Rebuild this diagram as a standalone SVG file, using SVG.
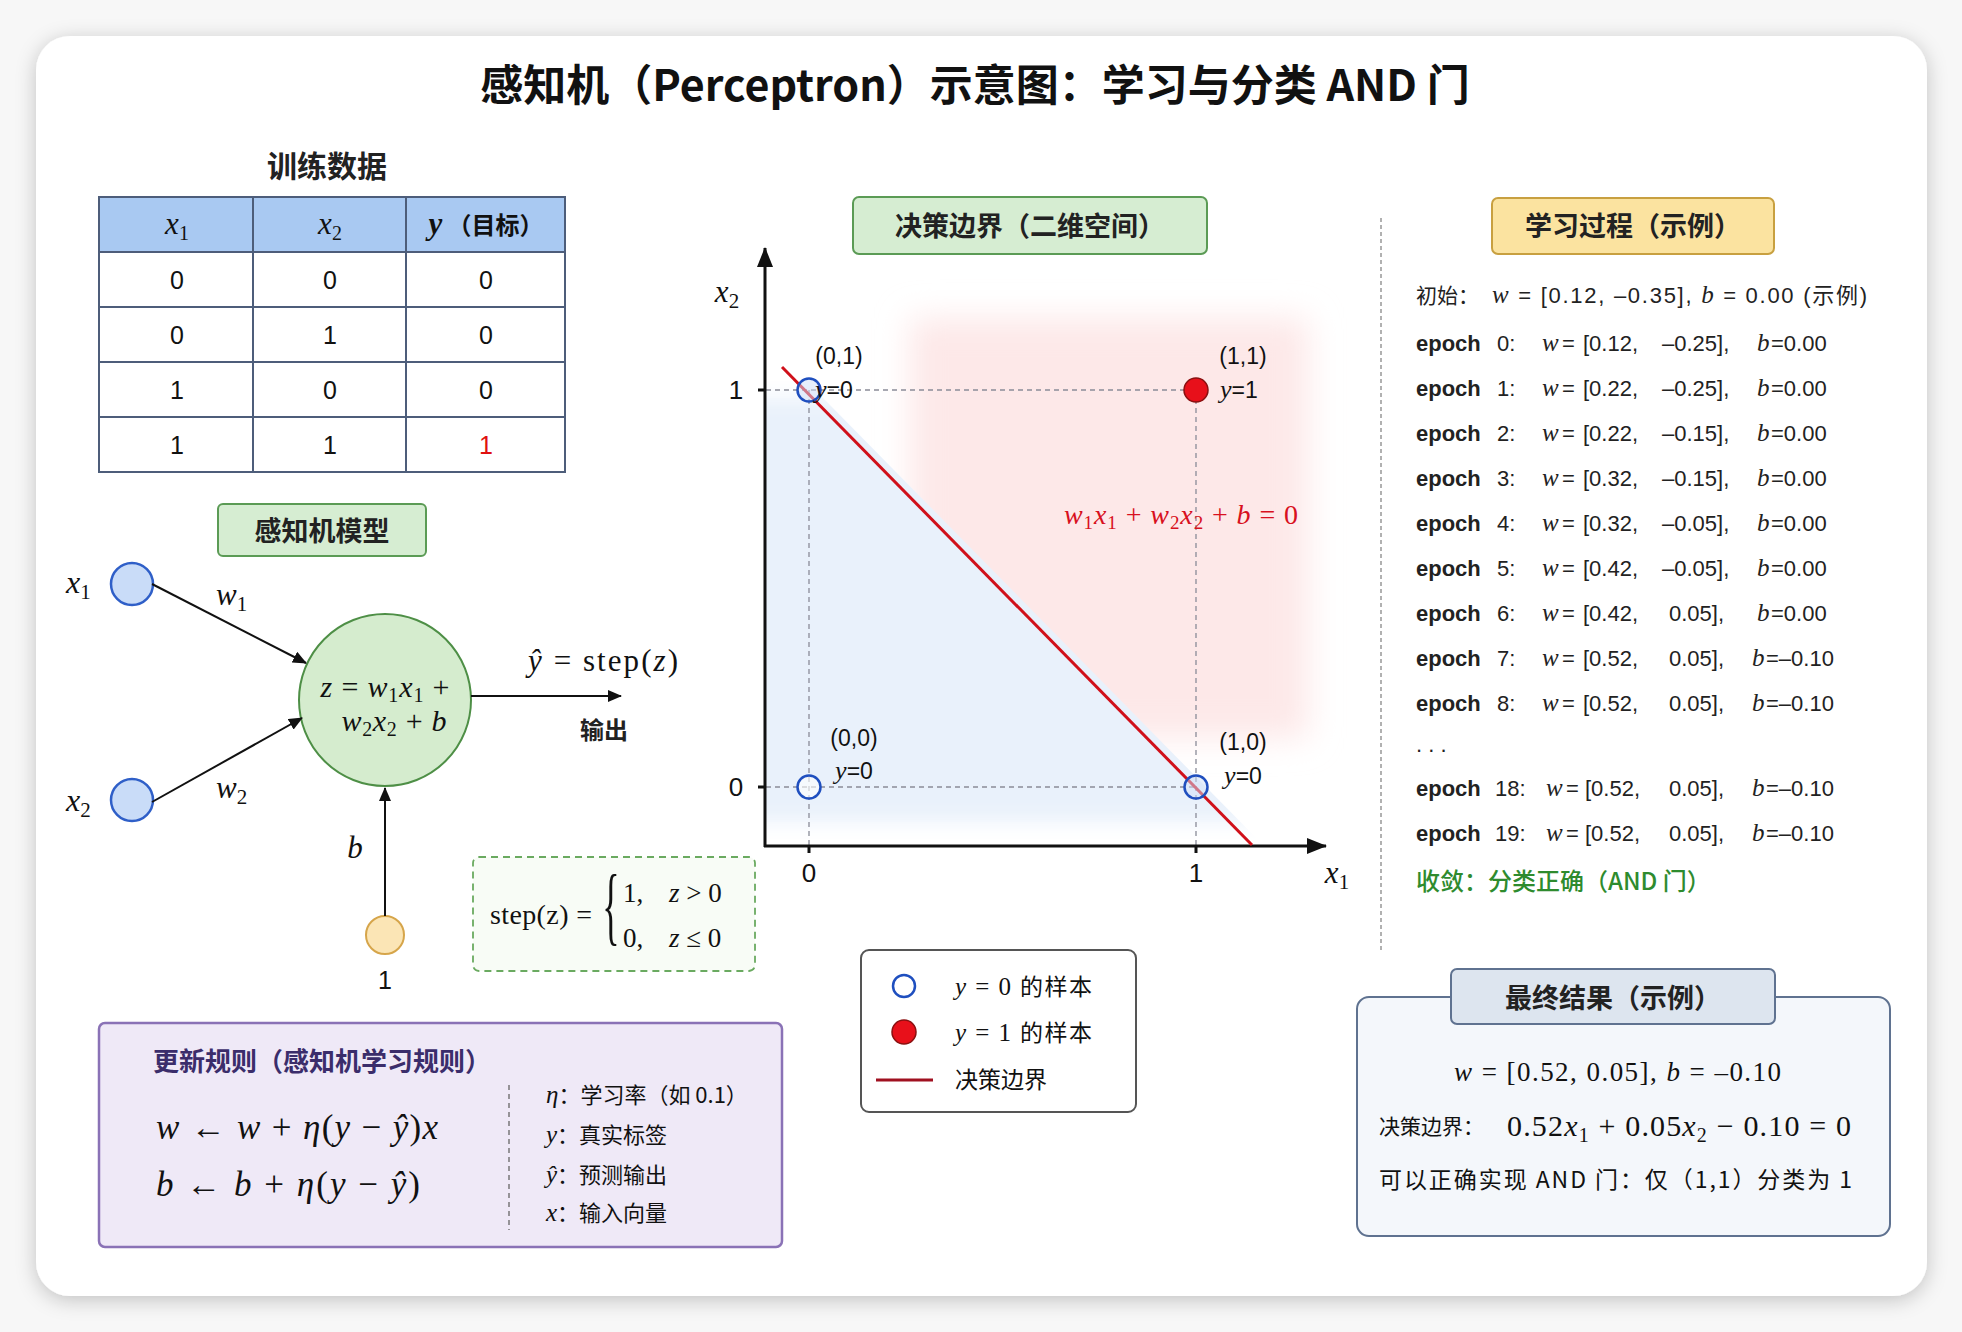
<svg xmlns="http://www.w3.org/2000/svg" width="1962" height="1332" viewBox="0 0 1962 1332">
<defs>
<style>
.cjk{font-family:"Noto Sans CJK SC","Noto Sans",sans-serif;}
.b{font-weight:700;}
.sans{font-family:"Liberation Sans","Noto Sans CJK SC",sans-serif;}
.mi{font-family:"Liberation Serif","DejaVu Serif",serif;font-style:italic;}
.mr{font-family:"Liberation Serif","DejaVu Serif",serif;font-style:normal;}
.dash{stroke:#8a8c98;stroke-width:1.3;stroke-dasharray:5 4;fill:none;}
.grid{stroke:#4d5d7a;stroke-width:2;}
.ep{font-size:22px;fill:#222;}
.ep .mi{font-size:25px;}
</style>
<filter id="shadow" x="-5%" y="-5%" width="110%" height="110%">
<feDropShadow dx="0" dy="4" stdDeviation="10" flood-color="#000" flood-opacity="0.22"/>
</filter>
<filter id="blurP" x="-30%" y="-30%" width="160%" height="160%"><feGaussianBlur stdDeviation="16"/></filter>
<filter id="blurB" x="-20%" y="-20%" width="140%" height="140%"><feGaussianBlur stdDeviation="10"/></filter>
<clipPath id="belowLine"><polygon points="766,340 1330,913 766,913"/></clipPath>
<clipPath id="aboveLine"><polygon points="700,284 700,200 1400,200 1400,913 1320,913"/></clipPath>
<marker id="ah" viewBox="0 0 14 12" refX="13" refY="6" markerWidth="14" markerHeight="12" orient="auto" markerUnits="userSpaceOnUse"><path d="M0,0 L14,6 L0,12 z" fill="#111"/></marker>
<marker id="axh" viewBox="0 0 20 16" refX="19" refY="8" markerWidth="20" markerHeight="16" orient="auto" markerUnits="userSpaceOnUse"><path d="M0,0 L20,8 L0,16 z" fill="#111"/></marker>
</defs>

<rect x="0" y="0" width="1962" height="1332" fill="#f7f7f7"/>
<rect id="card" x="36" y="36" width="1891" height="1260" rx="34" fill="#ffffff" filter="url(#shadow)"/>

<text id="title" x="975" y="101" class="cjk b" font-size="43" text-anchor="middle" fill="#111">感知机（Perceptron）示意图：学习与分类 AND 门</text>

<g id="training-data">
<text x="327" y="177" class="cjk b" font-size="30" text-anchor="middle" fill="#222">训练数据</text>
<rect x="99" y="197" width="466" height="55" fill="#a9c9f2"/>
<rect x="99" y="197" width="466" height="275" fill="none" class="grid"/>
<line x1="99" y1="252" x2="565" y2="252" class="grid"/>
<line x1="99" y1="307" x2="565" y2="307" class="grid"/>
<line x1="99" y1="362" x2="565" y2="362" class="grid"/>
<line x1="99" y1="417" x2="565" y2="417" class="grid"/>
<line x1="253" y1="197" x2="253" y2="472" class="grid"/>
<line x1="406" y1="197" x2="406" y2="472" class="grid"/>
<text x="177" y="234" class="mi" font-size="31" text-anchor="middle" fill="#111">x<tspan class="mr" font-size="20" dy="6">1</tspan></text>
<text x="330" y="234" class="mi" font-size="31" text-anchor="middle" fill="#111">x<tspan class="mr" font-size="20" dy="6">2</tspan></text>
<text x="486" y="234" font-size="31" text-anchor="middle" fill="#111"><tspan class="mi b">y</tspan><tspan class="cjk b" font-size="24"> （目标）</tspan></text>
<g class="sans" font-size="25" text-anchor="middle" fill="#111">
<text x="177" y="289">0</text><text x="330" y="289">0</text><text x="486" y="289">0</text>
<text x="177" y="344">0</text><text x="330" y="344">1</text><text x="486" y="344">0</text>
<text x="177" y="399">1</text><text x="330" y="399">0</text><text x="486" y="399">0</text>
<text x="177" y="454">1</text><text x="330" y="454">1</text><text x="486" y="454" fill="#e01010">1</text>
</g>
</g>

<g id="perceptron-model">
<rect x="218" y="504" width="208" height="52" rx="5" fill="#d6edd2" stroke="#5b9b55" stroke-width="2"/>
<text x="322" y="541" class="cjk b" font-size="27" text-anchor="middle" fill="#222">感知机模型</text>
</g>

<g id="input-x1">
<circle cx="132" cy="584" r="21" fill="#c9dcf8" stroke="#2f5fc8" stroke-width="2.5"/>
<text x="66" y="593" class="mi" font-size="32" fill="#111">x<tspan class="mr" font-size="21" dy="6">1</tspan></text>
</g>
<g id="input-x2">
<circle cx="132" cy="800" r="21" fill="#c9dcf8" stroke="#2f5fc8" stroke-width="2.5"/>
<text x="66" y="811" class="mi" font-size="32" fill="#111">x<tspan class="mr" font-size="21" dy="6">2</tspan></text>
</g>
<g id="neuron">
<circle cx="385" cy="700" r="86" fill="#d5ecce" stroke="#4e8f46" stroke-width="2"/>
<text x="385" y="697" class="mi" font-size="30" text-anchor="middle" fill="#111" textLength="129" lengthAdjust="spacing">z <tspan class="mr">=</tspan> w<tspan class="mr" font-size="20" dy="5">1</tspan><tspan dy="-5">x</tspan><tspan class="mr" font-size="20" dy="5">1</tspan><tspan class="mr" dy="-5"> +</tspan></text>
<text x="394" y="731" class="mi" font-size="30" text-anchor="middle" fill="#111" textLength="105" lengthAdjust="spacing">w<tspan class="mr" font-size="20" dy="5">2</tspan><tspan dy="-5">x</tspan><tspan class="mr" font-size="20" dy="5">2</tspan><tspan class="mr" dy="-5"> + </tspan>b</text>
</g>
<g id="bias">
<circle cx="385" cy="935" r="19" fill="#fbe5b5" stroke="#d6a54a" stroke-width="2"/>
<text x="385" y="989" class="sans" font-size="25" text-anchor="middle" fill="#111">1</text>
</g>
<g id="output">
<text x="528" y="671" font-size="31" fill="#111" textLength="150" lengthAdjust="spacing"><tspan class="mi">ŷ</tspan><tspan class="mr"> = step(</tspan><tspan class="mi">z</tspan><tspan class="mr">)</tspan></text>
<text x="604" y="739" class="cjk b" font-size="24" text-anchor="middle" fill="#222">输出</text>
</g>
<g id="step-function">
<rect x="473" y="857" width="282" height="114" rx="6" fill="#f8fcf6" stroke="#6aaa60" stroke-width="1.8" stroke-dasharray="7 5"/>
<text x="490" y="924" class="mr" font-size="28" fill="#111" textLength="102" lengthAdjust="spacing">step(z) =</text>
<text transform="translate(611,934) scale(0.42,1)" class="mr" font-size="86" text-anchor="middle" fill="#111">{</text>
<text x="623" y="902" class="mr" font-size="27" fill="#111">1,</text>
<text x="669" y="902" font-size="27" fill="#111"><tspan class="mi">z</tspan><tspan class="mr"> &gt; 0</tspan></text>
<text x="623" y="947" class="mr" font-size="27" fill="#111">0,</text>
<text x="669" y="947" font-size="27" fill="#111"><tspan class="mi">z</tspan><tspan class="mr"> ≤ 0</tspan></text>
</g>

<g id="connectors" stroke="#111" stroke-width="2" fill="none">
<line x1="152" y1="584" x2="306" y2="663" marker-end="url(#ah)"/>
<line x1="152" y1="802" x2="302" y2="718" marker-end="url(#ah)"/>
<line x1="471" y1="696" x2="621" y2="696" marker-end="url(#ah)"/>
<line x1="385" y1="916" x2="385" y2="788" marker-end="url(#ah)"/>
</g>
<g id="connector-labels" class="mi" font-size="31" fill="#111">
<text x="216" y="605">w<tspan class="mr" font-size="21" dy="6">1</tspan></text>
<text x="216" y="798">w<tspan class="mr" font-size="21" dy="6">2</tspan></text>
<text x="355" y="858" text-anchor="middle">b</text>
</g>

<g id="decision-boundary">
<rect x="853" y="197" width="354" height="57" rx="6" fill="#d6edd2" stroke="#5b9b55" stroke-width="2"/>
<text x="1030" y="236" class="cjk b" font-size="27" text-anchor="middle" fill="#222">决策边界（二维空间）</text>
<g clip-path="url(#aboveLine)"><rect x="910" y="318" width="398" height="420" fill="#fde8e8" filter="url(#blurP)"/></g>
<g clip-path="url(#belowLine)"><rect x="740" y="398" width="520" height="424" fill="#e9f1fb" filter="url(#blurB)"/></g>
<line x1="766" y1="390" x2="1196" y2="390" class="dash"/>
<line x1="766" y1="787" x2="1196" y2="787" class="dash"/>
<line x1="809" y1="390" x2="809" y2="846" class="dash"/>
<line x1="1196" y1="390" x2="1196" y2="846" class="dash"/>
<g stroke="#111" stroke-width="3" fill="none">
<line x1="765" y1="847" x2="765" y2="248" marker-end="url(#axh)"/>
<line x1="764" y1="846" x2="1326" y2="846" marker-end="url(#axh)"/>
<line x1="758" y1="390" x2="765" y2="390"/>
<line x1="758" y1="787" x2="765" y2="787"/>
<line x1="809" y1="846" x2="809" y2="853"/>
<line x1="1196" y1="846" x2="1196" y2="853"/>
</g>
<line x1="782" y1="367" x2="1252" y2="845" stroke="#d0101a" stroke-width="3"/>
<text x="727" y="302" class="mi" font-size="31" text-anchor="middle" fill="#111">x<tspan class="mr" font-size="21" dy="6">2</tspan></text>
<text x="1337" y="883" class="mi" font-size="31" text-anchor="middle" fill="#111">x<tspan class="mr" font-size="21" dy="6">1</tspan></text>
<g class="sans" font-size="26" text-anchor="middle" fill="#111">
<text x="736" y="399">1</text><text x="736" y="796">0</text>
<text x="809" y="882">0</text><text x="1196" y="882">1</text>
</g>
<circle cx="809" cy="390" r="11.5" fill="#cfe0f8" fill-opacity="0.5" stroke="#1f4fbf" stroke-width="2.5"/>
<circle cx="1196" cy="390" r="12" fill="#e8101a" stroke="#8a1010" stroke-width="1.5"/>
<circle cx="809" cy="787" r="11.5" fill="#ffffff" fill-opacity="0.6" stroke="#1f4fbf" stroke-width="2.5"/>
<circle cx="1196" cy="787" r="11.5" fill="#cfe0f8" fill-opacity="0.5" stroke="#1f4fbf" stroke-width="2.5"/>
<g font-size="23" fill="#111">
<text x="839" y="364" class="sans" text-anchor="middle">(0,1)</text>
<text x="815" y="398"><tspan class="mi" font-size="26">y</tspan><tspan class="sans">=0</tspan></text>
<text x="1243" y="364" class="sans" text-anchor="middle">(1,1)</text>
<text x="1220" y="398"><tspan class="mi" font-size="26">y</tspan><tspan class="sans">=1</tspan></text>
<text x="854" y="746" class="sans" text-anchor="middle">(0,0)</text>
<text x="854" y="779" text-anchor="middle"><tspan class="mi" font-size="26">y</tspan><tspan class="sans">=0</tspan></text>
<text x="1243" y="750" class="sans" text-anchor="middle">(1,0)</text>
<text x="1243" y="784" text-anchor="middle"><tspan class="mi" font-size="26">y</tspan><tspan class="sans">=0</tspan></text>
</g>
<text x="1064" y="524" class="mi" font-size="28" fill="#d81020" textLength="234" lengthAdjust="spacing">w<tspan class="mr" font-size="19" dy="5">1</tspan><tspan dy="-5">x</tspan><tspan class="mr" font-size="19" dy="5">1</tspan><tspan class="mr" dy="-5"> + </tspan>w<tspan class="mr" font-size="19" dy="5">2</tspan><tspan dy="-5">x</tspan><tspan class="mr" font-size="19" dy="5">2</tspan><tspan class="mr" dy="-5"> + </tspan>b<tspan class="mr"> = 0</tspan></text>
</g>

<g id="legend">
<rect x="861" y="950" width="275" height="162" rx="8" fill="#ffffff" stroke="#555" stroke-width="2"/>
<circle cx="904" cy="986" r="11" fill="#fff" stroke="#1f4fbf" stroke-width="2.5"/>
<circle cx="904" cy="1032" r="12" fill="#e8101a" stroke="#8a1010" stroke-width="1.5"/>
<line x1="876" y1="1080" x2="933" y2="1080" stroke="#a01020" stroke-width="3"/>
<text x="955" y="995" font-size="25" fill="#111" textLength="137" lengthAdjust="spacing"><tspan class="mi">y</tspan><tspan class="mr"> = 0 </tspan><tspan class="cjk" font-size="23">的样本</tspan></text>
<text x="955" y="1041" font-size="25" fill="#111" textLength="137" lengthAdjust="spacing"><tspan class="mi">y</tspan><tspan class="mr"> = 1 </tspan><tspan class="cjk" font-size="23">的样本</tspan></text>
<text x="955" y="1088" class="cjk" font-size="23" fill="#111">决策边界</text>
</g>

<g id="learning-process">
<line x1="1381" y1="218" x2="1381" y2="951" stroke="#888" stroke-width="1.3" stroke-dasharray="4 3"/>
<rect x="1492" y="198" width="282" height="56" rx="6" fill="#fbe3a0" stroke="#c8a040" stroke-width="2"/>
<text x="1633" y="236" class="cjk b" font-size="27" text-anchor="middle" fill="#222">学习过程（示例）</text>
<g class="ep">
<text x="1416" y="303" class="cjk" font-size="21">初始：</text>
<text x="1492" y="303" class="sans" font-size="22" textLength="375" lengthAdjust="spacing"><tspan class="mi">w</tspan> = [0.12, –0.35], <tspan class="mi">b</tspan> = 0.00 (<tspan class="cjk">示例</tspan>)</text>
</g>
<g class="ep sans">
<text y="351"><tspan x="1416" class="b">epoch</tspan><tspan x="1497">0:</tspan><tspan x="1542" class="mi">w</tspan><tspan x="1562">=</tspan><tspan x="1583">[0.12,</tspan><tspan x="1662">–0.25],</tspan><tspan x="1757" class="mi">b</tspan><tspan x="1771">=0.00</tspan></text>
<text y="396"><tspan x="1416" class="b">epoch</tspan><tspan x="1497">1:</tspan><tspan x="1542" class="mi">w</tspan><tspan x="1562">=</tspan><tspan x="1583">[0.22,</tspan><tspan x="1662">–0.25],</tspan><tspan x="1757" class="mi">b</tspan><tspan x="1771">=0.00</tspan></text>
<text y="441"><tspan x="1416" class="b">epoch</tspan><tspan x="1497">2:</tspan><tspan x="1542" class="mi">w</tspan><tspan x="1562">=</tspan><tspan x="1583">[0.22,</tspan><tspan x="1662">–0.15],</tspan><tspan x="1757" class="mi">b</tspan><tspan x="1771">=0.00</tspan></text>
<text y="486"><tspan x="1416" class="b">epoch</tspan><tspan x="1497">3:</tspan><tspan x="1542" class="mi">w</tspan><tspan x="1562">=</tspan><tspan x="1583">[0.32,</tspan><tspan x="1662">–0.15],</tspan><tspan x="1757" class="mi">b</tspan><tspan x="1771">=0.00</tspan></text>
<text y="531"><tspan x="1416" class="b">epoch</tspan><tspan x="1497">4:</tspan><tspan x="1542" class="mi">w</tspan><tspan x="1562">=</tspan><tspan x="1583">[0.32,</tspan><tspan x="1662">–0.05],</tspan><tspan x="1757" class="mi">b</tspan><tspan x="1771">=0.00</tspan></text>
<text y="576"><tspan x="1416" class="b">epoch</tspan><tspan x="1497">5:</tspan><tspan x="1542" class="mi">w</tspan><tspan x="1562">=</tspan><tspan x="1583">[0.42,</tspan><tspan x="1662">–0.05],</tspan><tspan x="1757" class="mi">b</tspan><tspan x="1771">=0.00</tspan></text>
<text y="621"><tspan x="1416" class="b">epoch</tspan><tspan x="1497">6:</tspan><tspan x="1542" class="mi">w</tspan><tspan x="1562">=</tspan><tspan x="1583">[0.42,</tspan><tspan x="1669">0.05],</tspan><tspan x="1757" class="mi">b</tspan><tspan x="1771">=0.00</tspan></text>
<text y="666"><tspan x="1416" class="b">epoch</tspan><tspan x="1497">7:</tspan><tspan x="1542" class="mi">w</tspan><tspan x="1562">=</tspan><tspan x="1583">[0.52,</tspan><tspan x="1669">0.05],</tspan><tspan x="1752" class="mi">b</tspan><tspan x="1766">=–0.10</tspan></text>
<text y="711"><tspan x="1416" class="b">epoch</tspan><tspan x="1497">8:</tspan><tspan x="1542" class="mi">w</tspan><tspan x="1562">=</tspan><tspan x="1583">[0.52,</tspan><tspan x="1669">0.05],</tspan><tspan x="1752" class="mi">b</tspan><tspan x="1766">=–0.10</tspan></text>
<text x="1416" y="752">. . .</text>
<text y="796"><tspan x="1416" class="b">epoch</tspan><tspan x="1495">18:</tspan><tspan x="1546" class="mi">w</tspan><tspan x="1566">=</tspan><tspan x="1585">[0.52,</tspan><tspan x="1669">0.05],</tspan><tspan x="1752" class="mi">b</tspan><tspan x="1766">=–0.10</tspan></text>
<text y="841"><tspan x="1416" class="b">epoch</tspan><tspan x="1495">19:</tspan><tspan x="1546" class="mi">w</tspan><tspan x="1566">=</tspan><tspan x="1585">[0.52,</tspan><tspan x="1669">0.05],</tspan><tspan x="1752" class="mi">b</tspan><tspan x="1766">=–0.10</tspan></text>
</g>
<text x="1416" y="890" class="cjk" font-size="24" font-weight="500" fill="#2e8b2e">收敛：分类正确（AND 门）</text>
</g>

<g id="update-rule">
<rect x="99" y="1023" width="683" height="224" rx="6" fill="#efe9f7" stroke="#8a72b6" stroke-width="2.5"/>
<text x="153" y="1071" class="cjk b" font-size="26" fill="#3b2d6b">更新规则（感知机学习规则）</text>
<text x="156" y="1139" class="mi" font-size="35" fill="#111" textLength="282" lengthAdjust="spacing">w <tspan class="mr">←</tspan> w <tspan class="mr">+</tspan> η<tspan class="mr">(</tspan>y <tspan class="mr">−</tspan> ŷ<tspan class="mr">)</tspan>x</text>
<text x="156" y="1196" class="mi" font-size="35" fill="#111" textLength="264" lengthAdjust="spacing">b <tspan class="mr">←</tspan> b <tspan class="mr">+</tspan> η<tspan class="mr">(</tspan>y <tspan class="mr">−</tspan> ŷ<tspan class="mr">)</tspan></text>
<line x1="509" y1="1085" x2="509" y2="1230" stroke="#666" stroke-width="1.3" stroke-dasharray="5 4"/>
<g font-size="22" fill="#111">
<text x="546" y="1103"><tspan class="mi" font-size="25">η</tspan><tspan class="cjk">：学习率（如 0.1）</tspan></text>
<text x="546" y="1143"><tspan class="mi" font-size="25">y</tspan><tspan class="cjk">：真实标签</tspan></text>
<text x="546" y="1183"><tspan class="mi" font-size="25">ŷ</tspan><tspan class="cjk">：预测输出</tspan></text>
<text x="546" y="1221"><tspan class="mi" font-size="25">x</tspan><tspan class="cjk">：输入向量</tspan></text>
</g>
</g>

<g id="final-result">
<rect x="1357" y="997" width="533" height="239" rx="12" fill="#f4f7fb" stroke="#5f7290" stroke-width="2"/>
<rect x="1451" y="969" width="324" height="55" rx="6" fill="#dde5ef" stroke="#5f7290" stroke-width="2"/>
<text x="1613" y="1008" class="cjk b" font-size="27" text-anchor="middle" fill="#222">最终结果（示例）</text>
<text x="1454" y="1081" class="mr" font-size="27" fill="#111" textLength="327" lengthAdjust="spacing"><tspan class="mi">w</tspan> = [0.52, 0.05],    <tspan class="mi">b</tspan> = –0.10</text>
<text x="1379" y="1134" class="cjk" font-size="21" fill="#111">决策边界：</text>
<text x="1507" y="1136" class="mr" font-size="30" fill="#111" textLength="344" lengthAdjust="spacing">0.52<tspan class="mi">x</tspan><tspan font-size="20" dy="6">1</tspan><tspan dy="-6"> + 0.05</tspan><tspan class="mi">x</tspan><tspan font-size="20" dy="6">2</tspan><tspan dy="-6"> − 0.10 = 0</tspan></text>
<text x="1379" y="1188" class="cjk" font-size="23" fill="#111" textLength="473" lengthAdjust="spacing">可以正确实现 AND 门：仅（1,1）分类为 1</text>
</g>
</svg>
